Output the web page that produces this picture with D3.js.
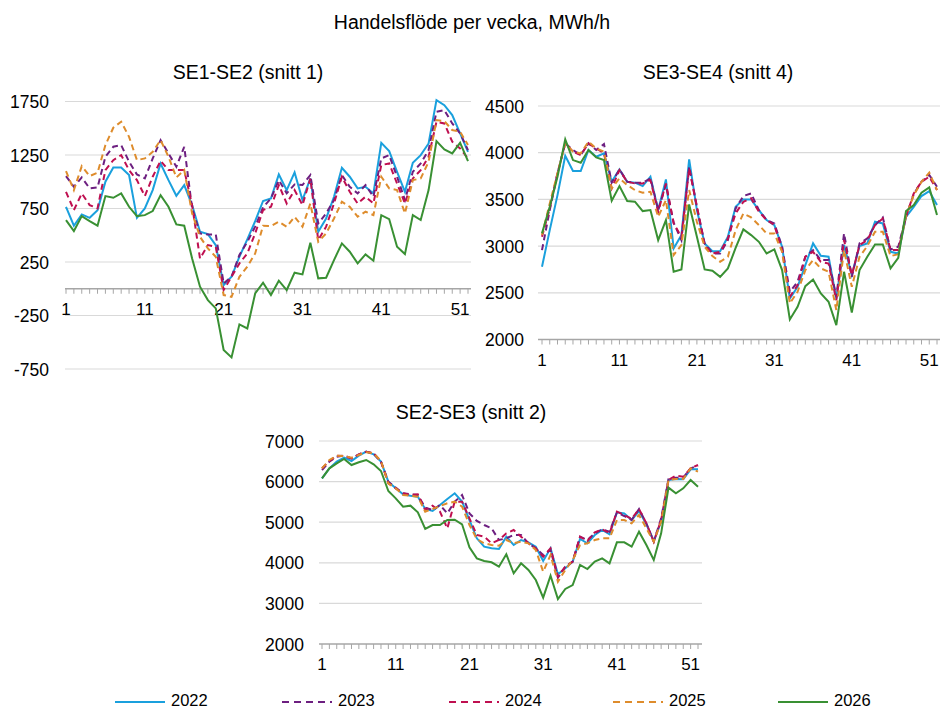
<!DOCTYPE html>
<html>
<head>
<meta charset="utf-8">
<script src="https://cdn.jsdelivr.net/npm/d3@7"></script>
<style>
  body { margin: 0; background: #fff; }
  svg text { font-family: "Liberation Sans", Arial, sans-serif; fill: #000; }
</style>
</head>
<body>
<svg id="chart" width="941" height="711"></svg>
<script>
// weeks 1..52
const weeks = d3.range(1, 53)
const weekLabels = [1, 11, 21, 31, 41, 51]
const years = ["2022", "2023", "2024", "2025", "2026"]

// SE1-SE2 (snitt 1)
const s1_2022 = [766,589,695,663,735,1000,1134,1134,1062,663,750,922,1171,1015,869,969,782,533,511,408,34,112,299,461,632,820,844,1068,922,1087,829,1031,533,657,860,1131,1047,938,953,891,1364,1286,1093,906,1177,1249,1358,1763,1716,1623,1452,1280]
const s1_2023 = [1053,953,1040,938,947,1234,1327,1343,1187,1068,1031,1218,1389,1265,1140,1327,751,517,508,508,50,112,315,439,580,760,844,1015,891,975,969,1062,611,704,829,1062,953,891,969,860,1218,1249,1047,829,1093,1171,1296,1654,1670,1545,1452,1296]
const s1_2024 = [906,735,891,782,751,1109,1202,1249,1109,1015,866,1047,1196,1109,1109,1109,782,283,408,393,-12,112,237,330,517,735,766,969,797,922,782,1031,455,580,797,1047,906,797,860,797,1156,1171,984,797,1031,1109,1234,1561,1545,1374,1311,1218]
const s1_2025 = [1100,922,1146,1053,1084,1343,1505,1561,1420,1202,1218,1280,1389,1234,1040,1109,704,486,377,299,-59,-75,112,206,330,588,586,626,580,673,580,797,439,517,657,813,766,673,720,688,1047,938,922,704,1015,1031,1187,1576,1567,1483,1467,1343]
const s1_2026 = [642,539,679,632,589,866,850,891,766,679,688,726,875,766,601,589,283,19,-106,-184,-573,-642,-333,-371,-44,56,-59,75,-12,150,134,430,97,103,268,424,346,237,321,262,688,651,393,324,688,642,922,1380,1302,1265,1364,1193]

// SE3-SE4 (snitt 4)
const s4_2022 = [2779,3171,3546,3968,3804,3804,4029,3957,3993,3689,3821,3689,3679,3643,3743,3386,3714,2975,3118,3929,3386,3029,2946,2946,3100,3420,3500,3500,3386,3279,3225,2993,2439,2564,2796,3029,2897,2886,2439,3011,2689,3000,3029,3261,3243,2939,2921,3314,3421,3536,3589,3439]
const s4_2023 = [2957,3386,3779,4100,4029,3975,4100,4029,4093,3679,3821,3689,3679,3679,3725,3386,3654,3250,3064,3850,3421,3029,2921,2921,3064,3404,3536,3564,3386,3279,3243,2993,2511,2618,2886,2957,2850,2850,2457,3136,2671,3029,3082,3225,3307,2964,2993,3314,3557,3689,3761,3636]
const s4_2024 = [3100,3404,3779,4100,4011,3975,4100,4046,3993,3618,3814,3689,3671,3671,3707,3368,3671,3243,3100,3832,3421,3011,2921,2939,3082,3350,3475,3511,3368,3279,3225,2957,2457,2582,2886,2939,2832,2814,2421,3064,2689,3011,3064,3225,3296,2957,2957,3314,3564,3689,3743,3600]
const s4_2025 = [3118,3457,3779,4100,4011,3993,4118,4046,4011,3618,3725,3654,3600,3571,3582,3314,3493,2904,3011,3600,3261,2993,2893,2832,2886,3170,3350,3307,3225,3136,3136,2939,2386,2511,2743,2850,2761,2725,2314,2957,2564,2886,3000,3154,3154,2893,2914,3321,3546,3689,3786,3600]
const s4_2026 = [3136,3421,3743,4143,3921,3893,4029,3950,3921,3486,3643,3482,3475,3375,3386,3064,3279,2725,2750,3446,3100,2750,2736,2671,2761,2980,3179,3118,3046,2921,2964,2743,2214,2350,2571,2643,2493,2404,2154,2725,2289,2743,2886,3018,3018,2761,2875,3375,3439,3571,3629,3332]

// SE2-SE3 (snitt 2)
const s2_2022 = [6080,6327,6491,6589,6507,6639,6737,6672,6491,5998,5834,5686,5654,5629,5325,5276,5424,5571,5711,5506,5054,4603,4397,4356,4340,4644,4438,4562,4504,4397,4044,4356,3716,3864,4028,4586,4480,4685,4808,4701,5243,5218,5054,5276,4948,4537,5013,6039,6064,6056,6302,6302]
const s2_2023 = [6286,6491,6614,6639,6573,6672,6737,6696,6491,5998,5851,5711,5686,5670,5358,5300,5424,5218,5506,5670,5218,5030,4931,4849,4562,4603,4685,4685,4480,4356,4192,4315,3634,3905,4028,4644,4562,4726,4824,4767,5243,5153,5054,5325,4972,4521,5095,6064,6097,6097,6327,6392]
const s2_2024 = [6327,6507,6639,6631,6573,6672,6737,6696,6491,5957,5834,5711,5670,5686,5300,5407,5259,4849,5506,5506,5095,4685,4644,4480,4562,4726,4808,4644,4480,4356,4151,4356,3659,3905,4028,4644,4537,4750,4824,4726,5259,5177,5079,5325,4972,4521,5054,6039,6146,6121,6327,6409]
const s2_2025 = [6327,6532,6639,6631,6589,6655,6721,6696,6507,5957,5834,5670,5654,5629,5259,5325,5399,5465,5506,5383,4931,4586,4480,4438,4422,4562,4480,4521,4480,4315,3782,4192,3535,3823,4069,4438,4480,4562,4603,4603,5054,5054,4972,5177,4849,4521,5013,6039,6064,6064,6327,6245]
const s2_2026 = [6080,6327,6450,6557,6409,6475,6532,6425,6261,5768,5588,5383,5407,5243,4833,4931,4931,5054,5062,4948,4381,4110,4044,4012,3905,4209,3741,3987,3823,3576,3141,3683,3108,3355,3453,3946,3847,4028,4110,3987,4504,4504,4397,4767,4438,4069,4726,5851,5711,5834,6039,5875]

const ticks1 = [-750, -250, 250, 750, 1250, 1750]
const ticks4 = [2000, 2500, 3000, 3500, 4000, 4500]
const ticks2 = [2000, 3000, 4000, 5000, 6000, 7000]

const colors = {"2022": "#1aa0dd", "2023": "#6d1f80", "2024": "#bf0f50", "2025": "#de8c2c", "2026": "#399033"}
const dashed = {"2022": false, "2023": true, "2024": true, "2025": true, "2026": false}

const svg = d3.select("#chart")

svg.append("text")
    .attr("x", 472).attr("y", 29)
    .attr("text-anchor", "middle")
    .style("font-size", "19.5px")
    .text("Handelsflöde per vecka, MWh/h")

const panels = [
  {title: "SE1-SE2 (snitt 1)", series: [s1_2022, s1_2023, s1_2024, s1_2025, s1_2026], ticks: ticks1,
   domain: [-750, 1750], axisAt: 0, xr: [66, 468], grid: [65, 471], yr: [369, 101.5], titleX: 248, titleY: 79, labelRight: 49},
  {title: "SE3-SE4 (snitt 4)", series: [s4_2022, s4_2023, s4_2024, s4_2025, s4_2026], ticks: ticks4,
   domain: [2000, 4500], axisAt: 2000, xr: [542, 937], grid: [538, 940], yr: [339.5, 106], titleX: 718, titleY: 79, labelRight: 524},
  {title: "SE2-SE3 (snitt 2)", series: [s2_2022, s2_2023, s2_2024, s2_2025, s2_2026], ticks: ticks2,
   domain: [2000, 7000], axisAt: 2000, xr: [322, 698], grid: [319, 702], yr: [644, 441], titleX: 471, titleY: 419, labelRight: 304}
]

panels.forEach(p => {
  const x = d3.scalePoint().domain(weeks).range(p.xr)
  const y = d3.scaleLinear().domain(p.domain).range(p.yr)
  const g = svg.append("g")

  g.append("text")
    .attr("x", p.titleX).attr("y", p.titleY)
    .attr("text-anchor", "middle")
    .style("font-size", "19.5px")
    .text(p.title)

  // gridlines + y labels
  g.selectAll(".grid").data(p.ticks.filter(t => t !== p.axisAt)).join("line")
    .attr("x1", p.grid[0]).attr("x2", p.grid[1])
    .attr("y1", d => y(d)).attr("y2", d => y(d))
    .attr("stroke", "#d9d9d9").attr("stroke-width", 1.2)

  g.selectAll(".ylab").data(p.ticks).join("text")
    .attr("x", p.labelRight).attr("y", d => y(d) + 6.5)
    .attr("text-anchor", "end")
    .style("font-size", "17.5px")
    .text(d => d)

  // category axis at axisAt
  const ay = y(p.axisAt)
  g.append("line")
    .attr("x1", p.grid[0]).attr("x2", p.grid[1])
    .attr("y1", ay).attr("y2", ay)
    .attr("stroke", "#a6a6a6").attr("stroke-width", 1.5)
  g.selectAll(".tick").data(weeks).join("line")
    .attr("x1", d => x(d)).attr("x2", d => x(d))
    .attr("y1", ay).attr("y2", ay + 5)
    .attr("stroke", "#a6a6a6").attr("stroke-width", 1)
  g.selectAll(".xlab").data(weekLabels).join("text")
    .attr("x", d => x(d)).attr("y", ay + 26)
    .attr("text-anchor", "middle")
    .style("font-size", "17px")
    .text(d => d)

  const line = d3.line().x((d, i) => x(weeks[i])).y(d => y(d))

  p.series.forEach((s, i) => {
    const yr = years[i]
    g.append("path")
      .datum(s)
      .attr("fill", "none")
      .attr("stroke", colors[yr])
      .attr("stroke-width", 2)
      .attr("stroke-dasharray", dashed[yr] ? "6,4" : null)
      .attr("d", line)
  })
})

// legend
const legendX = [115, 282, 449, 613, 778]
years.forEach((yr, i) => {
  svg.append("line")
    .attr("x1", legendX[i]).attr("x2", legendX[i] + 50)
    .attr("y1", 702).attr("y2", 702)
    .attr("stroke", colors[yr]).attr("stroke-width", 2)
    .attr("stroke-dasharray", dashed[yr] ? "7,5" : null)
  svg.append("text")
    .attr("x", legendX[i] + 56).attr("y", 706)
    .style("font-size", "16.5px")
    .text(yr)
})
</script>
</body>
</html>
